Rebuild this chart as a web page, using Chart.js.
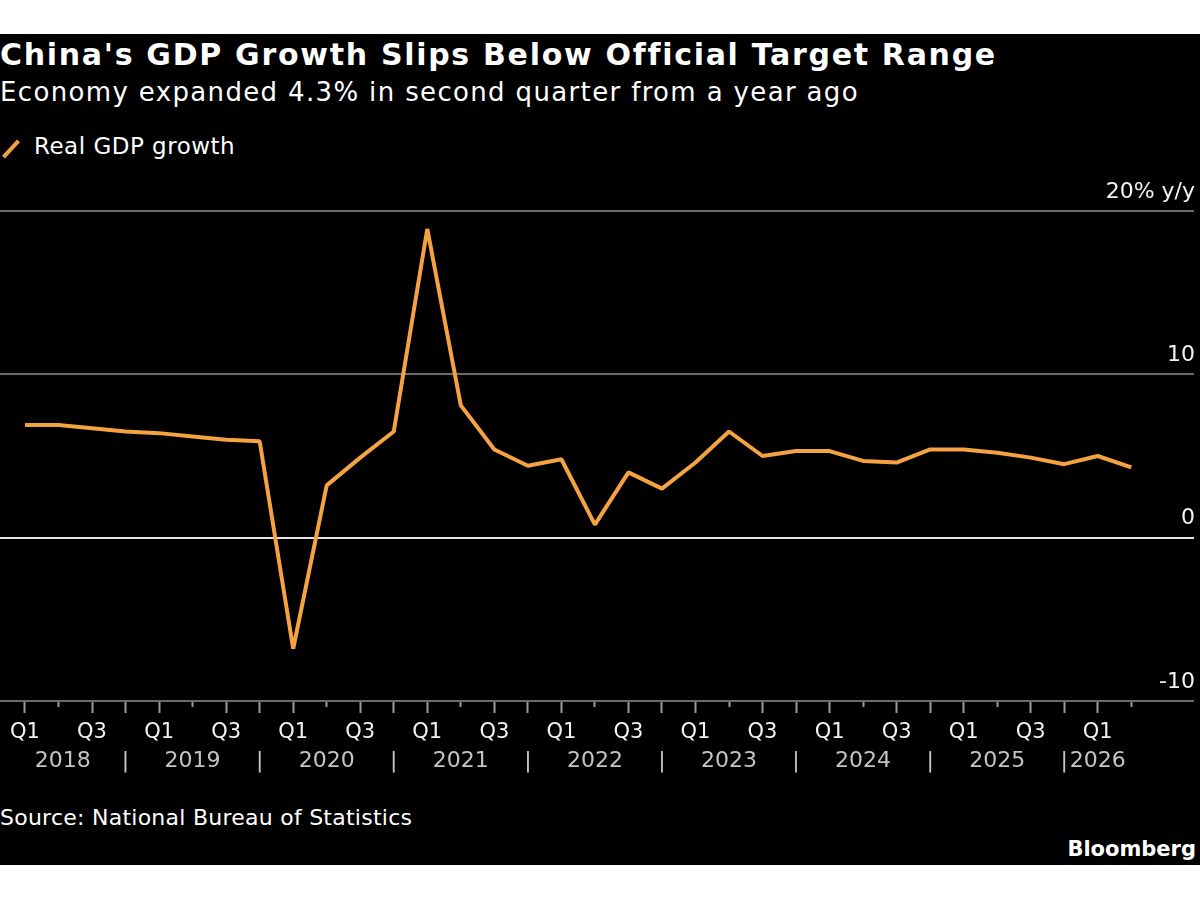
<!DOCTYPE html>
<html>
<head>
<meta charset="utf-8">
<script src="https://cdn.jsdelivr.net/npm/chart.js@4.4.1/dist/chart.umd.min.js"></script>
<style>
  html, body { margin: 0; padding: 0; background: #fff; width: 1200px; height: 900px; overflow: hidden; }
  #panel { position: absolute; left: 0; top: 34px; width: 1200px; height: 831px; background: #000; }
  .txt { position: absolute; color: #fff; font-family: "DejaVu Sans", sans-serif; white-space: nowrap; line-height: 1; }
  #title { left: 0; top: 40px; font-size: 30px; font-weight: bold; letter-spacing: 1.7px; }
  #subtitle { left: 0; top: 79px; font-size: 26px; letter-spacing: 1.35px; }
  #legend { left: 34px; top: 135px; font-size: 23px; letter-spacing: 0.5px; }
  #swatch { position: absolute; left: 9px; top: 138px; width: 4px; height: 22px; background: #f4a340; transform: rotate(43deg); }
  #source { left: 0; top: 807px; font-size: 22px; letter-spacing: 0.25px; }
  #brand { right: 4px; top: 839px; font-size: 21px; font-weight: bold; }
  canvas { position: absolute; left: 0; top: 0; }
</style>
</head>
<body>
<div id="panel"></div>
<div class="txt" id="title">China's GDP Growth Slips Below Official Target Range</div>
<div class="txt" id="subtitle">Economy expanded 4.3% in second quarter from a year ago</div>
<div id="swatch"></div>
<div class="txt" id="legend">Real GDP growth</div>
<div class="txt" id="source">Source: National Bureau of Statistics</div>
<div class="txt" id="brand">Bloomberg</div>
<canvas id="chart" width="1200" height="900"></canvas>
<script>
// data: quarterly real GDP growth, % y/y, Q1 2018 .. Q2 2026
const years = ['2018', '2019', '2020', '2021', '2022', '2023', '2024', '2025', '2026'];
const quarterNames = ['Q1', 'Q2', 'Q3', 'Q4'];
const growth = [
  6.9, 6.9, 6.7, 6.5,
  6.4, 6.2, 6.0, 5.9,
  -6.8, 3.2, 4.9, 6.5,
  18.9, 8.1, 5.4, 4.4,
  4.8, 0.8, 4.0, 3.0,
  4.6, 6.5, 5.0, 5.3,
  5.3, 4.7, 4.6, 5.4,
  5.4, 5.2, 4.9, 4.5,
  5.0, 4.3
];
const yTicks = [-10, 0, 10, 20];
const seriesName = 'Real GDP growth';

const quarters = growth.map((v, i) => quarterNames[i % 4]);
const lastIdx = growth.length - 1;
const xMin = -0.745, xMax = 34.87;

// year labels centred between separators, separators sit on Q4
const yearTicks = [];
years.forEach((y, k) => {
  const left = Math.max(4 * k - 1, xMin);
  const right = Math.min(4 * k + 3, lastIdx);
  yearTicks.push({ value: (left + right) / 2, label: y });
  if (4 * k + 3 < lastIdx) yearTicks.push({ value: 4 * k + 3, label: '|' });
});
yearTicks.sort((a, b) => a.value - b.value);

const font = 'DejaVu Sans';

new Chart(document.getElementById('chart'), {
  type: 'line',
  data: {
    datasets: [{
      label: seriesName,
      data: growth.map((v, i) => ({ x: i, y: v })),
      borderColor: '#f4a340',
      borderWidth: 4,
      borderJoinStyle: 'bevel',
      pointRadius: 0,
      tension: 0,
      fill: false
    }]
  },
  options: {
    responsive: false,
    animation: false,
    events: [],
    layout: { padding: { top: 211, left: 0, right: 4, bottom: 115 } },
    plugins: { legend: { display: false }, tooltip: { enabled: false } },
    scales: {
      x: {
        type: 'linear', min: xMin, max: xMax,
        afterBuildTicks: s => { s.ticks = quarters.map((q, i) => ({ value: i })); },
        afterFit: s => { s.height = 44; },
        border: { display: false },
        grid: {
          drawOnChartArea: false, drawTicks: true, tickLength: 12,
          tickColor: '#9a9a9a', tickWidth: 2,
          tickBorderDash: ctx => quarters[ctx.index] === 'Q2' ? [6, 40] : []
        },
        ticks: {
          autoSkip: false, maxRotation: 0, padding: 7,
          color: '#f2f2f2', font: { family: font, size: 21 },
          callback: (v, i) => (quarters[i] === 'Q1' || quarters[i] === 'Q3') ? quarters[i] : ''
        }
      },
      x2: {
        type: 'linear', position: 'bottom', min: xMin, max: xMax,
        afterBuildTicks: s => { s.ticks = yearTicks.map(t => ({ value: t.value })); },
        afterFit: s => { s.height = 40; },
        border: { display: false },
        grid: { display: false, drawTicks: false },
        ticks: {
          autoSkip: false, maxRotation: 0, padding: 3,
          color: '#c4c4c4', font: { family: font, size: 22 },
          callback: (v, i) => yearTicks[i].label
        }
      },
      y: {
        position: 'right', min: -10, max: 20,
        afterBuildTicks: s => { s.ticks = yTicks.map(v => ({ value: v })); },
        border: { display: false },
        grid: {
          drawTicks: false, lineWidth: 2,
          color: ctx => ctx.tick && ctx.tick.value === 0 ? '#e6e6e6' : '#6a6a6a'
        },
        ticks: {
          mirror: true, padding: 1, labelOffset: -19,
          color: '#f2f2f2', font: { family: font, size: 22 },
          callback: v => v === 20 ? '20% y/y' : String(v)
        }
      }
    }
  }
});
</script>
</body>
</html>
